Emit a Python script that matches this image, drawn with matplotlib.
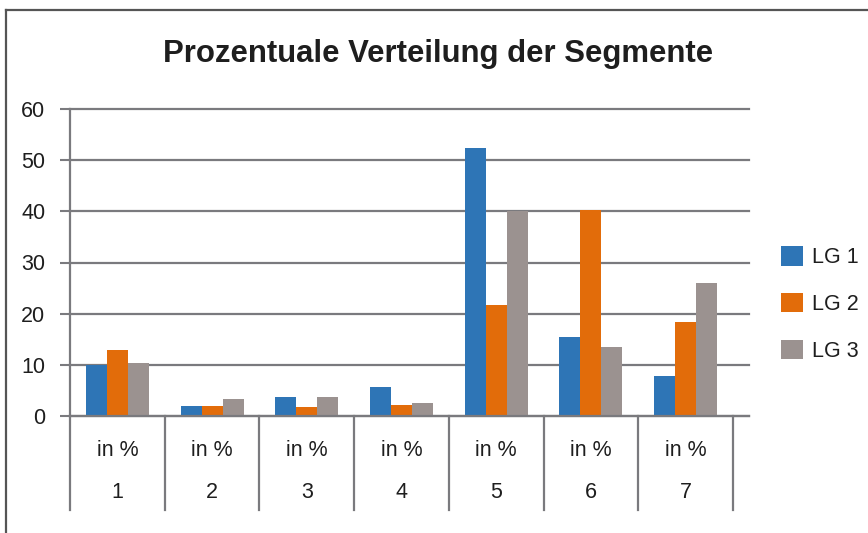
import numpy as np
import matplotlib
matplotlib.use("Agg")
import matplotlib.pyplot as plt
from matplotlib.lines import Line2D
from matplotlib.transforms import blended_transform_factory

## Data ---------------------------------------

categories = ["1", "2", "3", "4", "5", "6", "7"]
sub_label = "in %"
series_names = ["LG 1", "LG 2", "LG 3"]
lg1 = [10.0, 2.0, 3.7, 5.6, 52.4, 15.4, 7.8]
lg2 = [12.9, 2.0, 1.8, 2.2, 21.7, 40.3, 18.4]
lg3 = [10.4, 3.3, 3.8, 2.6, 40.0, 13.5, 26.0]
yticks = [0, 10, 20, 30, 40, 50, 60]

colors = ["#2E75B6", "#E26C0A", "#9B9290"]
grid_col = "#7a7a7e"
text_col = "#1e1e1e"

plt.rcParams["font.family"] = ["Liberation Sans", "DejaVu Sans"]

## Figure ---------------------------------------

fig = plt.figure(figsize=(8.68, 5.33), dpi=100)
ax = fig.add_axes([70 / 868, 117 / 533, 679 / 868, 307 / 533])

x = np.arange(len(categories))
w = 0.222
for i, (vals, name) in enumerate(zip([lg1, lg2, lg3], series_names)):
    ax.bar(x + (i - 1) * w, vals, width=w, color=colors[i], label=name, zorder=3)

ax.set_ylim(0, 60)
ax.set_xlim(-0.5, 6.5 + 16 / 94.7)
ax.set_yticks(yticks)
ax.set_xticks([])
ax.yaxis.grid(True, color=grid_col, linewidth=1.6, zorder=1)
for gl in ax.get_ygridlines():
    gl.set_clip_on(False)
ax.set_axisbelow(True)
ax.tick_params(axis="y", length=7.2, width=1.5, color=grid_col, pad=10.5,
               labelsize=15.5, labelcolor=text_col)

for s in ["top", "right"]:
    ax.spines[s].set_visible(False)
for s in ["left", "bottom"]:
    ax.spines[s].set_color(grid_col)
    ax.spines[s].set_linewidth(1.6)
    ax.spines[s].set_zorder(4)

# category separators and labels below the axis
trans = blended_transform_factory(ax.transData, ax.transAxes)
for b in np.arange(len(categories) + 1) - 0.5:
    ax.plot([b, b], [0, -0.306], transform=trans, color=grid_col,
            linewidth=1.6, clip_on=False)
for xi, cat in zip(x, categories):
    ax.text(xi, -0.111, sub_label, transform=trans, ha="center", va="center",
            fontsize=15.5, color=text_col)
    ax.text(xi, -0.248, cat, transform=trans, ha="center", va="center",
            fontsize=15.5, color=text_col)

## Title / legend / frame --------------------------------

fig.text(438 / 868, 1 - 62 / 533, "Prozentuale Verteilung der Segmente",
         ha="center", va="baseline", fontsize=22.4, fontweight="bold",
         color=text_col)

fig.legend(loc="center left", bbox_to_anchor=(781 / 868, 1 - 304 / 533),
           frameon=False, fontsize=15.5, handlelength=1.0, handleheight=1.0,
           handletextpad=0.45, labelspacing=1.15, borderpad=0, borderaxespad=0,
           labelcolor=text_col)

fig.add_artist(Line2D([6 / 868, 1], [1 - 10 / 533, 1 - 10 / 533],
                      transform=fig.transFigure, color="#555555", linewidth=1.6))
fig.add_artist(Line2D([6 / 868, 6 / 868], [0, 1 - 10 / 533],
                      transform=fig.transFigure, color="#555555", linewidth=1.6))

fig.savefig("out.png", dpi=100)
